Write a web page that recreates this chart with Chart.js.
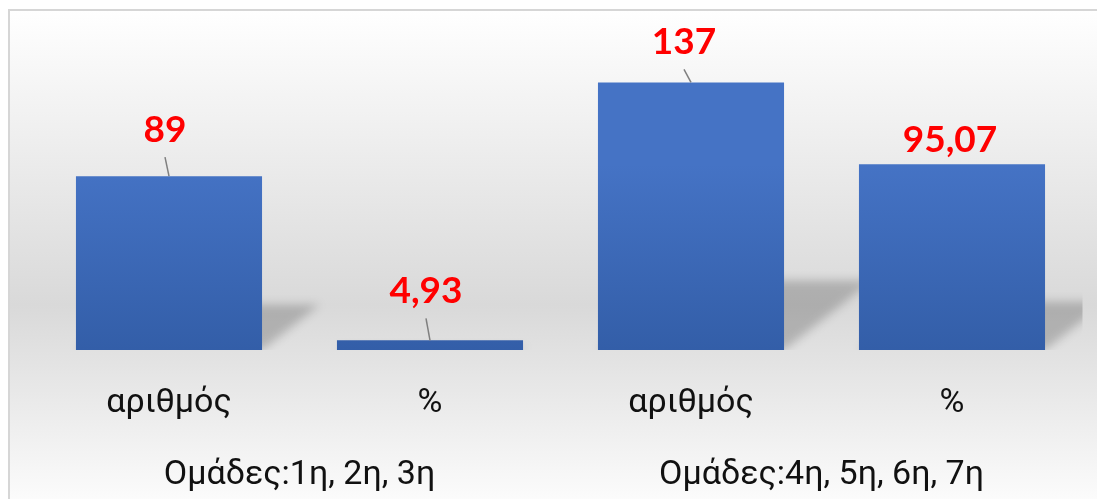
<!DOCTYPE html>
<html><head><meta charset="utf-8">
<script src="https://cdn.jsdelivr.net/npm/chart.js@4/dist/chart.umd.min.js"></script>
<style>html,body{margin:0;padding:0;background:#fff}#wrap{width:1097px;height:499px;position:relative}</style>
</head><body><div id="wrap"><canvas id="c" width="1097" height="499"></canvas></div>
<script>
const categories = ['αριθμός', '%', 'αριθμός', '%'];
const groups = ['Ομάδες:1η, 2η, 3η', 'Ομάδες:4η, 5η, 6η, 7η'];
const values = [89, 4.93, 137, 95.07];
const yMin = 0;
const yMax = 160;

// label placement (pixels relative to the bar's top centre) – styling only
const labelPlacement = [
  {dx: -4, dy: -34, leader: true},
  {dx: -4, dy: -37, leader: true},
  {dx: -7, dy: -28, leader: true},
  {dx: -2, dy: -12, leader: false}
];

const bgPlugin = {
  id: 'bg',
  beforeDraw(chart) {
    const ctx = chart.ctx;
    const W = chart.width, H = chart.height;
    ctx.save();
    ctx.fillStyle = '#ffffff';
    ctx.fillRect(0, 0, W, H);
    const g = ctx.createLinearGradient(0, 9, 0, 520);
    g.addColorStop(0, '#ffffff');
    g.addColorStop(0.58, '#d9d9d9');
    g.addColorStop(1, '#ffffff');
    ctx.fillStyle = g;
    ctx.fillRect(9, 10, W - 9, H - 10);
    ctx.strokeStyle = '#d6d6d6';
    ctx.lineWidth = 2;
    ctx.beginPath();
    ctx.moveTo(9, H);
    ctx.lineTo(9, 10);
    ctx.lineTo(W, 10);
    ctx.stroke();
    ctx.restore();
  }
};

const barStylePlugin = {
  id: 'barStyle',
  beforeDatasetsDraw(chart) {
    const ctx = chart.ctx;
    const meta = chart.getDatasetMeta(0);
    const area = chart.chartArea;
    ctx.save();
    ctx.beginPath();
    ctx.rect(area.left, area.top - 50, area.right - area.left, area.bottom - area.top + 50);
    ctx.clip();
    meta.data.forEach(el => {
      const L = el.x - el.width / 2, R = el.x + el.width / 2;
      const base = el.base, h = base - el.y;
      const dx = 0.33 * h, dy = 0.26 * h;
      ctx.save();
      ctx.filter = 'blur(5px)';
      ctx.fillStyle = 'rgba(0,0,0,0.2)';
      ctx.beginPath();
      ctx.moveTo(L, base);
      ctx.lineTo(R, base);
      ctx.lineTo(R + dx, base - dy);
      ctx.lineTo(L + dx, base - dy);
      ctx.closePath();
      ctx.fill();
      ctx.restore();
      const g = ctx.createLinearGradient(0, el.y, 0, base);
      g.addColorStop(0, '#4573c5');
      g.addColorStop(1, '#335ea8');
      el.options.backgroundColor = g;
    });
    ctx.restore();
  }
};

const labelPlugin = {
  id: 'valueLabels',
  afterDatasetsDraw(chart) {
    const ctx = chart.ctx;
    const meta = chart.getDatasetMeta(0);
    ctx.save();
    meta.data.forEach((el, i) => {
      const p = labelPlacement[i];
      const txt = String(values[i]).replace('.', ',');
      const tx = el.x + p.dx, ty = el.y + p.dy;
      ctx.font = 'bold 37px Lato, "Open Sans", sans-serif';
      ctx.fillStyle = '#ff0000';
      ctx.textAlign = 'center';
      ctx.textBaseline = 'alphabetic';
      ctx.fillText(txt, tx, ty);
      if (p.leader) {
        ctx.strokeStyle = '#7f7f7f';
        ctx.lineWidth = 1.5;
        ctx.beginPath();
        ctx.moveTo(tx, ty + 15);
        ctx.lineTo(el.x, el.y);
        ctx.stroke();
      }
    });
    ctx.restore();
  }
};

new Chart(document.getElementById('c'), {
  type: 'bar',
  data: {
    labels: categories,
    datasets: [{
      data: values,
      backgroundColor: '#4472c4',
      borderWidth: 0,
      categoryPercentage: 1,
      barPercentage: 0.713
    }]
  },
  options: {
    responsive: false,
    animation: false,
    devicePixelRatio: 1,
    layout: {padding: {left: 38.5, right: 14.5, top: 37.5, bottom: 0}},
    plugins: {legend: {display: false}, tooltip: {enabled: false}},
    scales: {
      y: {display: false, min: yMin, max: yMax},
      x: {
        type: 'category',
        weight: 0,
        grid: {display: false},
        border: {display: false},
        ticks: {font: {family: 'Roboto', size: 34}, color: '#111', padding: 25},
        afterFit(s) { s.height = 80; }
      },
      x2: {
        type: 'category',
        position: 'bottom',
        labels: groups,
        offset: true,
        weight: 1,
        grid: {display: false},
        border: {display: false},
        ticks: {font: {family: 'Roboto', size: 34}, color: '#111', padding: 17},
        afterFit(s) { s.height = 69; }
      }
    }
  },
  plugins: [bgPlugin, barStylePlugin, labelPlugin]
});
</script>
</body></html>
